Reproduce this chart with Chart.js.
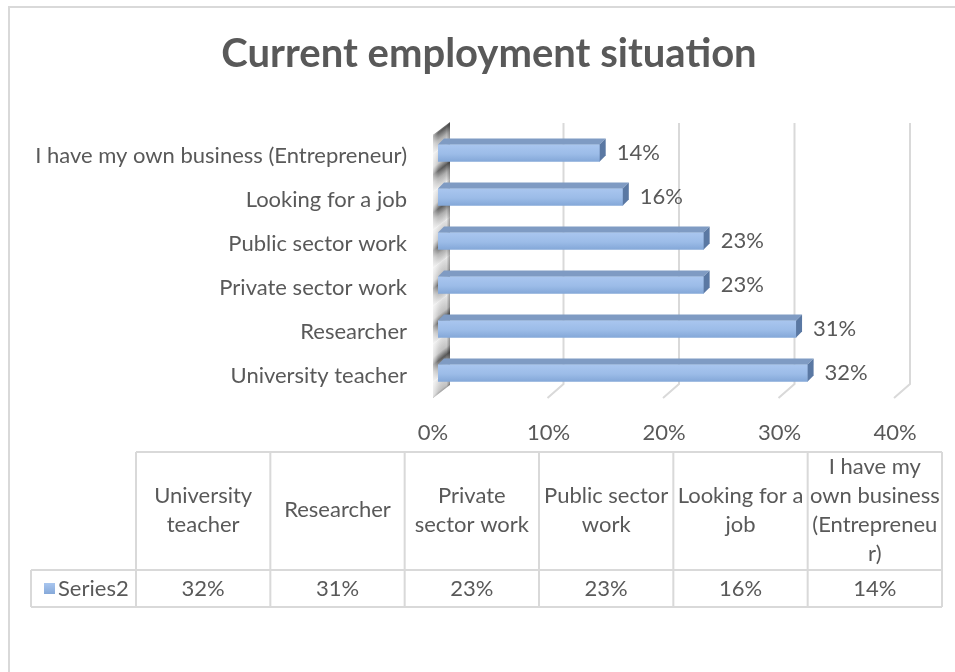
<!DOCTYPE html>
<html>
<head>
<meta charset="utf-8">
<title>Current employment situation</title>
<script src="https://cdn.jsdelivr.net/npm/chart.js@4.4.1/dist/chart.umd.min.js"></script>
<style>
  html, body { margin: 0; padding: 0; background: #fff; }
  #wrap { position: relative; width: 955px; height: 672px; }
  #chartTitle {
    position: absolute; left: 0; top: 28px; width: 978px;
    text-align: center; line-height: 48px;
    font: bold 40px Lato, "Open Sans", sans-serif; color: #595959;
  }
</style>
</head>
<body>
<div id="wrap">
  <canvas id="employmentChart"></canvas>
  <div id="chartTitle">Current employment situation</div>
</div>
<script>
const categories = [
  'University teacher',
  'Researcher',
  'Private sector work',
  'Public sector work',
  'Looking for a job',
  'I have my own business (Entrepreneur)'
];
const shares = [0.32, 0.31, 0.23, 0.23, 0.16, 0.14];
const tickValues = [0, 0.1, 0.2, 0.3, 0.4];
const seriesName = 'Series2';
// header cells of the data table, wrapped the way the spreadsheet wraps them
const tableHeaders = [
  ['University', 'teacher'],
  ['Researcher'],
  ['Private', 'sector work'],
  ['Public sector', 'work'],
  ['Looking for a', 'job'],
  ['I have my', 'own business', '(Entrepreneu', 'r)']
];

const FONT = 'Lato, "Open Sans", sans-serif';
const TEXT = '#595959';
const GRID = '#d9d9d9';
const DX = 6, DY = 6;           // bar depth
const pct = v => Math.round(v * 100) + '%';

function drawWall(ctx, a, x0) {
  const w = 17, top = a.top + 4, bottom = a.bottom + 3, period = 38;
  ctx.save();
  // skew so the wall leans back like the floor lines
  ctx.transform(1, -13 / 17, 0, 1, x0 - 5, 0);
  ctx.beginPath();
  ctx.rect(0, top, w, bottom - top);
  ctx.clip();
  for (let v = top - period / 2; v < bottom; v += period) {
    const g = ctx.createLinearGradient(0, v, 0, v + period);
    g.addColorStop(0, '#e6e6e6');
    g.addColorStop(0.35, '#c4c4c4');
    g.addColorStop(0.55, '#5a5a5a');
    g.addColorStop(0.75, '#b0b0b0');
    g.addColorStop(1, '#e6e6e6');
    ctx.fillStyle = g;
    ctx.fillRect(0, v, w, period);
  }
  const side = ctx.createLinearGradient(0, 0, w, 0);
  side.addColorStop(0, 'rgba(255,255,255,0.6)');
  side.addColorStop(0.3, 'rgba(255,255,255,0.1)');
  side.addColorStop(0.8, 'rgba(0,0,0,0)');
  side.addColorStop(1, 'rgba(0,0,0,0.3)');
  ctx.fillStyle = side;
  ctx.fillRect(0, top, w, bottom - top);
  ctx.restore();
}

function drawTable(chart) {
  const ctx = chart.ctx;
  const left = 31, colStart = 136, right = 942, top = 452, mid = 570, bottom = 607;
  const colW = (right - colStart) / categories.length;
  ctx.save();
  ctx.strokeStyle = GRID;
  ctx.lineWidth = 2;
  ctx.beginPath();
  ctx.moveTo(colStart, top); ctx.lineTo(right, top);
  ctx.moveTo(left, mid); ctx.lineTo(right, mid);
  ctx.moveTo(left, bottom); ctx.lineTo(right, bottom);
  ctx.moveTo(left, mid); ctx.lineTo(left, bottom);
  for (let i = 0; i <= categories.length; i++) {
    const cx = colStart + i * colW;
    ctx.moveTo(cx, top); ctx.lineTo(cx, bottom);
  }
  ctx.stroke();

  ctx.fillStyle = TEXT;
  ctx.font = `22px ${FONT}`;
  ctx.textAlign = 'center';
  ctx.textBaseline = 'middle';
  const lh = 29;
  tableHeaders.forEach((lines, i) => {
    const cx = colStart + (i + 0.5) * colW;
    const y0 = 510 - (lines.length - 1) * lh / 2;
    lines.forEach((t, j) => ctx.fillText(t, cx, y0 + j * lh));
    ctx.fillText(pct(shares[i]), cx, 589);
  });

  // series key
  const g = ctx.createLinearGradient(0, 583, 0, 594);
  g.addColorStop(0, '#a9c6ef');
  g.addColorStop(1, '#86a9d9');
  ctx.fillStyle = g;
  ctx.fillRect(44, 583, 11, 11);
  ctx.fillStyle = TEXT;
  ctx.textAlign = 'left';
  ctx.fillText(seriesName, 58, 589);
  ctx.restore();
}

const depthPlugin = {
  id: 'depth',
  beforeDatasetsDraw(chart) {
    const {ctx, chartArea: a, scales: {x}} = chart;
    ctx.save();
    ctx.strokeStyle = GRID;
    ctx.lineWidth = 2;
    tickValues.slice(1).forEach(v => {
      const px = x.getPixelForValue(v);
      ctx.beginPath();
      ctx.moveTo(px + 10, a.top - 8);
      ctx.lineTo(px + 10, a.bottom - 11);
      ctx.lineTo(px - 6, a.bottom + 3);
      ctx.stroke();
    });
    ctx.restore();
    drawWall(ctx, a, x.getPixelForValue(tickValues[0]));
  },
  afterDatasetsDraw(chart) {
    const ctx = chart.ctx;
    ctx.save();
    chart.getDatasetMeta(0).data.forEach((bar, i) => {
      const {x: xe, y, base, height} = bar.getProps(['x', 'y', 'base', 'height'], true);
      const top = y - height / 2, bot = y + height / 2;
      ctx.fillStyle = '#7f9bc3';
      ctx.beginPath();
      ctx.moveTo(base, top);
      ctx.lineTo(base + DX, top - DY);
      ctx.lineTo(xe + DX, top - DY);
      ctx.lineTo(xe, top);
      ctx.closePath();
      ctx.fill();
      ctx.fillStyle = '#5a78a3';
      ctx.beginPath();
      ctx.moveTo(xe, top);
      ctx.lineTo(xe + DX, top - DY);
      ctx.lineTo(xe + DX, bot - DY);
      ctx.lineTo(xe, bot);
      ctx.closePath();
      ctx.fill();
      ctx.fillStyle = TEXT;
      ctx.font = `22px ${FONT}`;
      ctx.textAlign = 'left';
      ctx.textBaseline = 'middle';
      ctx.fillText(pct(shares[i]), xe + DX + 11, y);
    });
    ctx.restore();
  },
  afterDraw(chart) {
    drawTable(chart);
    const ctx = chart.ctx;
    ctx.save();
    ctx.strokeStyle = GRID;
    ctx.lineWidth = 2;
    ctx.strokeRect(9, 7, 980, 700);
    ctx.restore();
  }
};

new Chart(document.getElementById('employmentChart'), {
  type: 'bar',
  data: {
    labels: categories,
    datasets: [{
      label: seriesName,
      data: shares,
      barThickness: 17,
      borderWidth: 0,
      backgroundColor(c) {
        const chart = c.chart;
        if (!chart.chartArea || c.dataIndex === undefined) return '#9bbbe6';
        const yc = chart.scales.y.getPixelForValue(c.dataIndex);
        const g = chart.ctx.createLinearGradient(0, yc - 8.5, 0, yc + 8.5);
        g.addColorStop(0, '#a9c6ef');
        g.addColorStop(0.55, '#9cbce8');
        g.addColorStop(1, '#84a8d8');
        return g;
      }
    }]
  },
  options: {
    indexAxis: 'y',
    responsive: true,
    maintainAspectRatio: false,
    animation: false,
    layout: { padding: { left: 20, right: 55, top: 131, bottom: 227 } },
    plugins: {
      legend: { display: false },
      tooltip: { enabled: false },
      title: { display: false }
    },
    scales: {
      x: {
        min: 0,
        max: 0.4,
        afterBuildTicks: s => { s.ticks = tickValues.map(v => ({ value: v })); },
        afterFit: s => { s.height = 50; },
        grid: { display: false, drawTicks: false },
        border: { display: false },
        ticks: {
          callback: v => pct(v),
          color: TEXT,
          font: { family: FONT, size: 22 },
          padding: 25,
          labelOffset: -5,
          maxRotation: 0
        }
      },
      y: {
        reverse: true,
        afterFit: s => { s.width = 418; },
        grid: { display: false, drawTicks: false },
        border: { display: false },
        ticks: {
          color: TEXT,
          font: { family: FONT, size: 22 },
          padding: 31,
          labelOffset: 3,
          autoSkip: false
        }
      }
    }
  },
  plugins: [depthPlugin]
});
</script>
</body>
</html>
